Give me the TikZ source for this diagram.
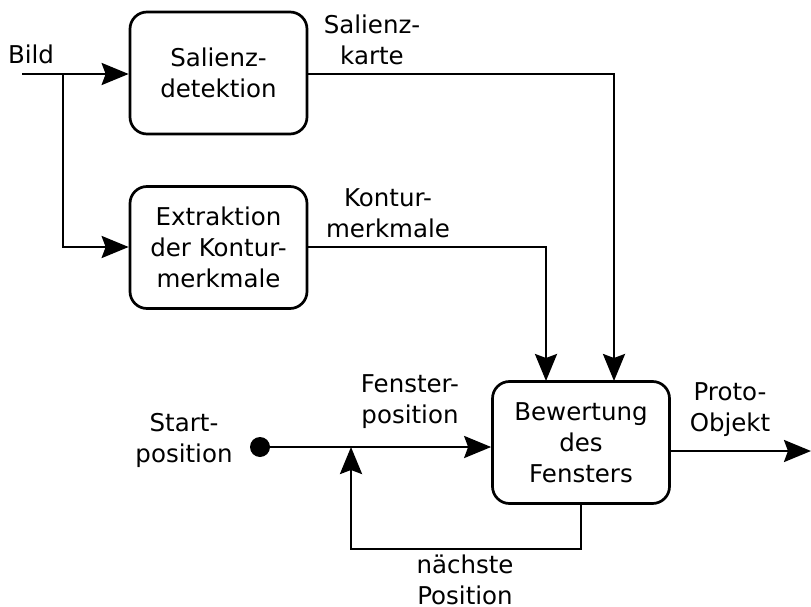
\documentclass[tikz,border=0pt]{standalone}
\usepackage{fontspec}
\setmainfont{DejaVu Sans}
\usetikzlibrary{arrows.meta}
\begin{document}
\begin{tikzpicture}[x=1pt,y=-1pt,
  every node/.style={font=\fontsize{24.5}{31}\selectfont, align=center},
  blockbox/.style={draw, line width=2.7pt, rounded corners=17pt, minimum width=177pt, minimum height=122pt, inner sep=0pt},
  conn/.style={line width=2.7pt},
  arr/.style={conn, -{Stealth[length=27pt,width=22pt,inset=4pt]}},
  lbl/.style={inner sep=0pt}]
\useasboundingbox (0,0) rectangle (811,607);

% processing blocks
\node[blockbox] (s) at (218.5,73) {Salienz-\\detektion};
\node[blockbox] (e) at (218.5,247.5) {Extraktion\\der Kontur-\\merkmale};
\node[blockbox] (b) at (581,442.5) {Bewertung\\des\\Fensters};

% image input and branch
\coordinate (in) at (22,74);
\coordinate (br) at (63,74);
\draw[arr] (in) -- (s.west |- in);
\draw[arr] (br) |- (e.west |- 0,247);
\node[lbl] (bild) at (31,54) {Bild};

% feature maps into the evaluation block
\coordinate (sk) at (614,381);
\coordinate (km) at (546,381);
\draw[arr] (s.east |- 0,74) -| (sk);
\draw[arr] (e.east |- 0,247) -| (km);
\node[lbl] (lsk) at (372,40) {Salienz-\\karte};
\node[lbl] (lkm) at (388,213) {Kontur-\\merkmale};

% start position and feedback loop
\node[circle, fill, inner sep=0pt, minimum size=20pt] (st) at (260,447) {};
\draw[arr] (st.center) -- (b.west |- st);
\coordinate (j) at (351,447);
\draw[arr] (b.south) -- ++(0,44) -| (j);
\node[lbl] (lstart) at (184,440) {Start-\\position};
\node[lbl] (lfp) at (410,402) {Fenster-\\position};
\node[lbl] (lnp) at (465,580) {nächste\\Position};

% output
\coordinate (out) at (811,451);
\draw[arr] (b.east |- out) -- (out);
\node[lbl] (lpo) at (730,410) {Proto-\\Objekt};
\end{tikzpicture}
\end{document}
